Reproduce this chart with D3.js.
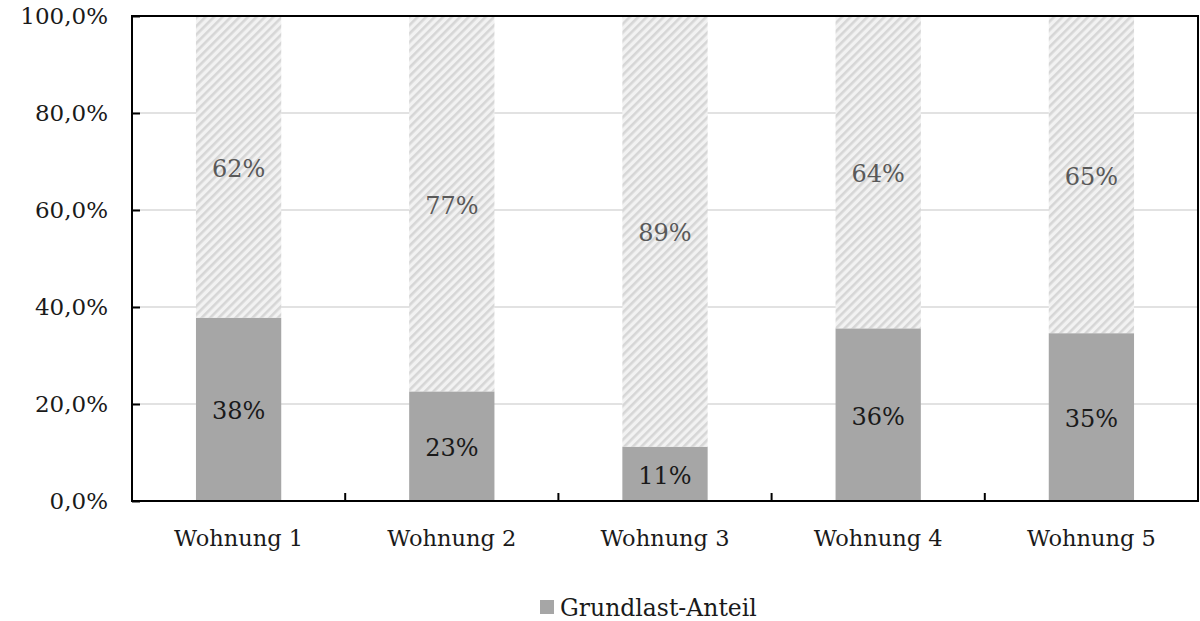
<!DOCTYPE html>
<html>
<head>
<meta charset="utf-8">
<script src="https://cdn.jsdelivr.net/npm/d3@7"></script>
<style>
  html, body { margin: 0; padding: 0; background: #fff; }
  svg { display: block; }
  text { font-family: "DejaVu Serif", "Liberation Serif", serif; }
</style>
</head>
<body>
<svg id="chart" width="1200" height="621"></svg>
<script>
// Share of base load vs. remaining consumption per apartment
const categories = ["Wohnung 1", "Wohnung 2", "Wohnung 3", "Wohnung 4", "Wohnung 5"];
const grundlast = [0.378, 0.226, 0.112, 0.356, 0.346];
const rest = [0.622, 0.774, 0.888, 0.644, 0.654];
const yTicks = [0, 0.2, 0.4, 0.6, 0.8, 1.0];
const legendLabel = "Grundlast-Anteil";

const svg = d3.select("#chart");
const margin = { left: 132, right: 2, top: 16, bottom: 120 };
const W = 1200, H = 621;
const plotR = W - margin.right, plotB = H - margin.bottom;

const x = d3.scaleBand().domain(categories).range([margin.left, plotR]).paddingInner(0.6).paddingOuter(0.3);
const xOuter = d3.scaleBand().domain(categories).range([margin.left, plotR]);
const y = d3.scaleLinear().domain([0, 1]).range([plotB, margin.top]);

// hatch pattern for the remaining share
const defs = svg.append("defs");
const pat = defs.append("pattern").attr("id", "hatch").attr("patternUnits", "userSpaceOnUse")
  .attr("width", 6).attr("height", 6).attr("patternTransform", "rotate(45)");
pat.append("rect").attr("width", 6).attr("height", 6).attr("fill", "#f2f2f2");
pat.append("rect").attr("x", 0).attr("width", 2.6).attr("height", 6).attr("fill", "#d6d6d6");

// gridlines
svg.append("g").selectAll("line").data(yTicks.slice(1, -1)).join("line")
  .attr("x1", margin.left).attr("x2", plotR)
  .attr("y1", d => y(d)).attr("y2", d => y(d))
  .attr("stroke", "#d9d9d9").attr("stroke-width", 1.5);

const rows = categories.map((c, i) => ({ c, g: grundlast[i], r: rest[i] }));

// base load segments
svg.append("g").selectAll("rect").data(rows).join("rect")
  .attr("x", d => x(d.c)).attr("width", x.bandwidth())
  .attr("y", d => y(d.g)).attr("height", d => y(0) - y(d.g))
  .attr("fill", "#a6a6a6");

// remaining segments
svg.append("g").selectAll("rect").data(rows).join("rect")
  .attr("x", d => x(d.c)).attr("width", x.bandwidth())
  .attr("y", d => y(d.g + d.r)).attr("height", d => y(d.g) - y(d.g + d.r))
  .attr("fill", "url(#hatch)");

const pct = d3.format(".0%");
// value labels
svg.append("g").selectAll("text").data(rows).join("text")
  .attr("x", d => x(d.c) + x.bandwidth() / 2)
  .attr("y", d => y(d.g / 2) + 2)
  .attr("text-anchor", "middle").attr("dominant-baseline", "central")
  .attr("font-size", 24).attr("fill", "#1a1a1a")
  .text(d => pct(d.g));
svg.append("g").selectAll("text").data(rows).join("text")
  .attr("x", d => x(d.c) + x.bandwidth() / 2)
  .attr("y", d => y(d.g + d.r / 2) + 2)
  .attr("text-anchor", "middle").attr("dominant-baseline", "central")
  .attr("font-size", 24).attr("fill", "#595959")
  .text(d => pct(d.r));

// y axis
const yAxis = d3.axisLeft(y).tickValues(yTicks).tickSize(-8).tickPadding(24)
  .tickFormat(d => d3.format(".1f")(d * 100).replace(".", ",") + "%");
const gy = svg.append("g").attr("transform", `translate(${margin.left},0)`).call(yAxis);
gy.select(".domain").remove();
gy.selectAll(".tick line").attr("stroke", "#000").attr("stroke-width", 2);
gy.selectAll(".tick text").attr("font-size", 23).attr("fill", "#1a1a1a")
  .attr("font-family", "DejaVu Serif");

// x axis with category boundary ticks
const gx = svg.append("g");
gx.selectAll("line").data(categories.slice(1)).join("line")
  .attr("x1", d => xOuter(d)).attr("x2", d => xOuter(d))
  .attr("y1", plotB).attr("y2", plotB - 8)
  .attr("stroke", "#000").attr("stroke-width", 2);
gx.selectAll("text").data(categories).join("text")
  .attr("x", d => xOuter(d) + xOuter.bandwidth() / 2)
  .attr("y", plotB + 45)
  .attr("text-anchor", "middle").attr("font-size", 22.5).attr("fill", "#1a1a1a")
  .text(d => d);

// frame
svg.append("rect").attr("x", margin.left).attr("y", margin.top)
  .attr("width", plotR - margin.left).attr("height", plotB - margin.top)
  .attr("fill", "none").attr("stroke", "#000").attr("stroke-width", 2);

// legend
const lg = svg.append("g").attr("transform", "translate(540,600)");
lg.append("rect").attr("x", 0).attr("y", 0).attr("width", 14).attr("height", 14).attr("fill", "#a6a6a6");
lg.append("text").attr("x", 20).attr("y", 8).attr("dominant-baseline", "central")
  .attr("font-size", 23.5).attr("fill", "#1a1a1a").text(legendLabel);
</script>
</body>
</html>
